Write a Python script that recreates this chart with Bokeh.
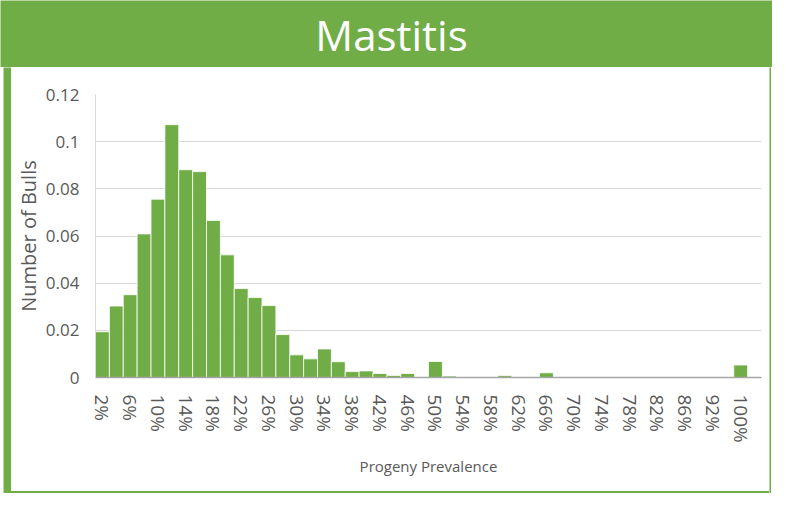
from bokeh.plotting import figure
from bokeh.layouts import row, column
from bokeh.models import Range1d, FixedTicker, NumeralTickFormatter, ColumnDataSource, Div
from bokeh.core.properties import value
from bokeh.embed import file_html
from bokeh.resources import INLINE

# ---- data ----
title_text = "Mastitis"
x_label = "Progeny Prevalence"
y_label = "Number of Bulls"
categories = ["2%", "4%", "6%", "8%", "10%", "12%", "14%", "16%", "18%", "20%",
              "22%", "24%", "26%", "28%", "30%", "32%", "34%", "36%", "38%", "40%",
              "42%", "44%", "46%", "48%", "50%", "52%", "54%", "56%", "58%", "60%",
              "62%", "64%", "66%", "68%", "70%", "72%", "74%", "76%", "78%", "80%",
              "82%", "84%", "86%", "88%", "92%", "96%", "100%", ""]
values = [0.0194, 0.0303, 0.0351, 0.0609, 0.0756, 0.1072, 0.0881, 0.0873, 0.0666, 0.0520,
          0.0377, 0.0339, 0.0305, 0.0182, 0.0096, 0.0079, 0.0121, 0.0067, 0.0025, 0.0028,
          0.0017, 0.0009, 0.0017, 0.0, 0.0068, 0.0006, 0.0, 0.0, 0.0, 0.0008,
          0.0, 0.0, 0.0020, 0.0, 0.0002, 0.0002, 0.0002, 0.0, 0.0, 0.0002,
          0.0002, 0.0, 0.0, 0.0, 0.0002, 0.0, 0.0053, 0.0]
y_ticks = [0, 0.02, 0.04, 0.06, 0.08, 0.1, 0.12]

GREEN = "#70AD47"
FONT = "Open Sans"
LABEL_GRAY = "#595959"

TOTAL_W = 772
BANNER_H = 67
LOWER_H = 426
PAD_L = 3      # white gap left of the green side bar
BAR_L = 8      # green side bar
BAR_R = 2      # thin right border
PAD_R = 1
BAR_B = 2      # thin bottom border
CHART_W = TOTAL_W - PAD_L - BAR_L - BAR_R - PAD_R
CHART_H = LOWER_H - BAR_B


def strip(w, h, color):
    f = figure(width=w, height=h, toolbar_location=None, output_backend="svg",
               min_border=0, x_axis_type=None, y_axis_type=None)
    f.background_fill_color = color
    f.border_fill_color = color
    f.outline_line_color = None
    f.grid.visible = False
    return f


# ---- banner ----
banner = figure(width=TOTAL_W, height=BANNER_H, toolbar_location=None, output_backend="svg",
                min_border=0, x_axis_type=None, y_axis_type=None,
                x_range=Range1d(0, TOTAL_W), y_range=Range1d(0, BANNER_H))
banner.background_fill_color = GREEN
banner.border_fill_color = GREEN
banner.outline_line_color = None
banner.grid.visible = False
banner.text(x=[391], y=[33], text=[title_text], text_color="white",
            text_font=value(FONT), text_font_size="42px",
            text_align="center", text_baseline="middle")

# ---- chart ----
xs = list(range(len(categories)))
src = ColumnDataSource(dict(x=xs, top=values))

p = figure(width=CHART_W, height=CHART_H, toolbar_location=None, output_backend="svg",
           x_range=Range1d(-0.5, len(categories) - 0.5), y_range=Range1d(0, 0.12),
           min_border_left=79, min_border_right=8, min_border_top=27, min_border_bottom=114)
p.background_fill_color = "white"
p.border_fill_color = "white"
p.outline_line_color = None

p.vbar(x="x", top="top", width=1.0, bottom=0, source=src,
       fill_color=GREEN, line_color="#FFFFFF", line_width=0.8)

p.xaxis.ticker = FixedTicker(ticks=xs[::2])
p.xaxis.major_label_overrides = {i: categories[i] for i in xs[::2]}
p.xaxis.major_label_orientation = "vertical"
p.xaxis.major_tick_line_color = None
p.xaxis.minor_tick_line_color = None
p.xaxis.axis_line_color = "#A6A6A6"
p.xaxis.axis_line_width = 1.3
p.xaxis.major_label_standoff = 11
p.xaxis.major_label_text_font_size = "19px"
p.xaxis.axis_label = x_label
p.xaxis.axis_label_standoff = 10
p.xaxis.axis_label_text_font_size = "15px"

p.yaxis.ticker = FixedTicker(ticks=y_ticks)
p.yaxis.formatter = NumeralTickFormatter(format="0.[00]")
p.yaxis.major_tick_line_color = None
p.yaxis.minor_tick_line_color = None
p.yaxis.axis_line_color = "#D9D9D9"
p.yaxis.major_label_standoff = 10
p.yaxis.major_label_text_font_size = "17px"
p.yaxis.axis_label = y_label
p.yaxis.axis_label_standoff = 1
p.yaxis.axis_label_text_font_size = "20px"

for ax in (p.xaxis, p.yaxis):
    ax.major_label_text_font = FONT
    ax.major_label_text_color = LABEL_GRAY
    ax.axis_label_text_font = FONT
    ax.axis_label_text_font_style = "normal"
    ax.axis_label_text_color = LABEL_GRAY

p.xgrid.visible = False
p.ygrid.grid_line_color = "#D9D9D9"
p.ygrid.grid_line_width = 1

pad_left = strip(PAD_L, LOWER_H, "white")
left_bar = strip(BAR_L, LOWER_H, GREEN)
right_bar = strip(BAR_R, LOWER_H, GREEN)
pad_right = strip(PAD_R, LOWER_H, "white")
bottom_bar = Div(text="", width=CHART_W, height=BAR_B,
                 styles={"background-color": GREEN, "padding": "0", "margin": "0"})

layout = column(banner, row(pad_left, left_bar, column(p, bottom_bar), right_bar, pad_right))

open("out.html", "w").write(file_html(layout, INLINE))
